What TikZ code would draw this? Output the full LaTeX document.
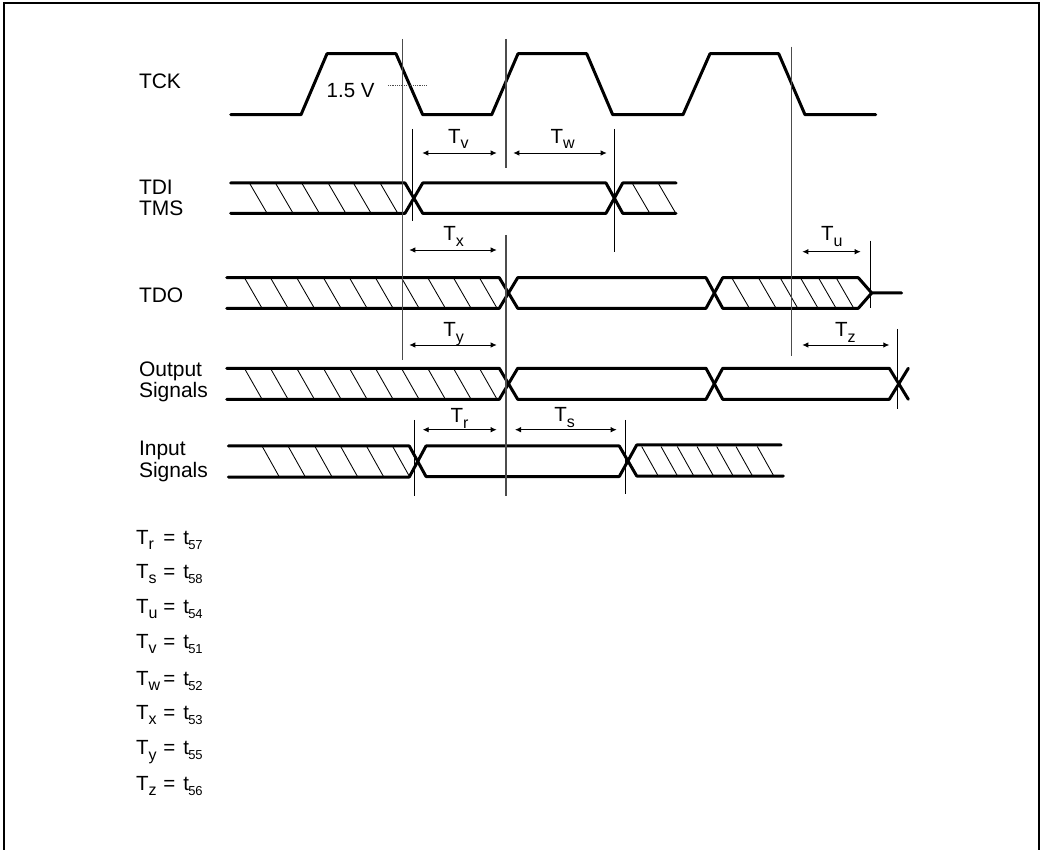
\documentclass[tikz,border=0pt]{standalone}
\usepackage{fontspec}
\setmainfont{Liberation Sans}
\usetikzlibrary{arrows.meta}
\newcommand{\Tsub}[2]{T\kern#2pt\raisebox{-5.5pt}{\fontsize{16}{16}\selectfont #1}}
\newcommand{\tsub}[1]{t\kern-0.5pt\raisebox{-5pt}{\fontsize{13}{13}\selectfont\addfontfeature{LetterSpace=-3} #1}}
\tikzset{
  x=1pt,y=-1pt,
  every node/.style={inner sep=0pt,outer sep=0pt,anchor=base west,font=\fontsize{20.5}{20.5}\selectfont},
  siglabel/.style={font=\fontsize{21}{21}\selectfont},
  wave/.style={line width=3pt,line cap=round,line join=round,black},
  hatchln/.style={line width=0.85pt,black},
  marker/.style={line width=1.4pt,black!70},
  markerthin/.style={line width=1pt,black},
  dim/.style={line width=0.9pt,black,{Latex[length=6pt,width=5.5pt]}-{Latex[length=6pt,width=5.5pt]}},
  dotln/.style={line width=0.9pt,black!70,dash pattern=on 1pt off 0.8pt}
}
\newcommand{\hatchset}[3]{\foreach \q in {#1}{\draw[hatchln] (\q,#2) -- (\q+16.5,#3);}}
\begin{document}
\begin{tikzpicture}
\useasboundingbox (0,0) rectangle (1045,850);
% frame
\draw[line width=2pt,black] (4,851) -- (4,3.3) -- (1039,3.3) -- (1039,851);
% text labels
\node[siglabel] (tck) at (139,88.7) {TCK};
\node (volt) at (326.7,97.3) {1.5 V};
\node[siglabel] (tdi) at (139,195) {TDI};
\node[siglabel] (tms) at (139,215.3) {TMS};
\node[siglabel] (tdo) at (139,303) {TDO};
\node[siglabel] (outa) at (139,376.7) {Output};
\node[siglabel] (outb) at (139,397.7) {Signals};
\node[siglabel] (ina) at (139,456) {Input};
\node[siglabel] (inb) at (139,477.7) {Signals};
% TCK
\draw[wave] (230.7,114.7) -- (301,114.7) -- (327,53.7) -- (396,53.7) -- (422.7,114.7) -- (491.7,114.7) -- (518,53.7) -- (586.7,53.7) -- (612.7,114.7) -- (683,114.7) -- (710,53.7) -- (778.7,53.7) -- (805,114.7) -- (875.7,114.7);
\draw[dotln] (388,85.3) -- (426,85.3);
% TDI/TMS
\hatchset{250,276,302.3,328.7,354,380.7}{184}{212.3}
\hatchset{632.7,658.7}{184}{212.3}
\draw[wave] (230.7,183) -- (405,183) -- (422.7,213.3) -- (606,213.3) -- (622.7,183) -- (676,183);
\draw[wave] (230.7,213.3) -- (405,213.3) -- (422.7,183) -- (606,183) -- (622.7,213.3) -- (676,213.3);
% TDO
\hatchset{245,271,297.3,324,350,376,402,428.3,454,480,732.3,759,780.7,801,819,836.7}{278.7}{307.3}
\draw[wave] (226.7,277.7) -- (499.3,277.7) -- (517.7,308.3) -- (706,308.3) -- (722.7,277.7) -- (858.3,277.7) -- (871.7,293) -- (901.7,293);
\draw[wave] (226.7,308.3) -- (499.3,308.3) -- (517.7,277.7) -- (706,277.7) -- (722.7,308.3) -- (858.3,308.3) -- (871.7,293);
% Output
\hatchset{245,271,297.3,324,350,376,402,428.3,454,480}{369.3}{398.3}
\draw[wave] (226.7,368.3) -- (499.3,368.3) -- (517.7,399.3) -- (706,399.3) -- (722.7,368.3) -- (889.3,368.3) -- (908.3,399.3);
\draw[wave] (226.7,399.3) -- (499.3,399.3) -- (517.7,368.3) -- (706,368.3) -- (722.7,399.3) -- (889.3,399.3) -- (908.3,368.3);
% Input
\hatchset{262.3,288.3,315,340.7,366.7,392.7,641.7,661,677.3,697,716.7,736,757.3}{446.5}{476}
\draw[wave] (228.3,446) -- (409.3,446) -- (426,476.5) -- (619.3,476.5) -- (636.7,445) -- (781,445);
\draw[wave] (228.3,477) -- (409.3,477) -- (426,446) -- (619.3,446) -- (636.7,476) -- (783.3,476);
% vertical markers
\coordinate (vaT) at (402.7,39); \coordinate (vaB) at (402.7,360);
\coordinate (vbT) at (506,39); \coordinate (vbB) at (506,167.7);
\coordinate (vcT) at (506,235); \coordinate (vcB) at (506,496);
\coordinate (vdT) at (412.7,129); \coordinate (vdB) at (412.7,221);
\coordinate (veT) at (614,129); \coordinate (veB) at (614,251.7);
\coordinate (vfT) at (791.7,46.7); \coordinate (vfB) at (791.7,355.7);
\coordinate (vgT) at (870.7,240.7); \coordinate (vgB) at (870.7,308);
\coordinate (vhT) at (897.7,329); \coordinate (vhB) at (897.7,409);
\coordinate (viT) at (414,420); \coordinate (viB) at (414,496);
\coordinate (vjT) at (625.7,420); \coordinate (vjB) at (625.7,494);
\draw[marker] (vaT) -- (vaB);
\draw[marker] (vbT) -- (vbB);
\draw[marker] (vcT) -- (vcB);
\draw[marker] (vfT) -- (vfB);
\draw[markerthin] (vdT) -- (vdB);
\draw[markerthin] (veT) -- (veB);
\draw[markerthin] (vgT) -- (vgB);
\draw[markerthin] (vhT) -- (vhB);
\draw[markerthin] (viT) -- (viB);
\draw[markerthin] (vjT) -- (vjB);
% dimension arrows
\coordinate (dva) at (422.3,153); \coordinate (dvb) at (496.7,153);
\coordinate (dwa) at (513.3,153); \coordinate (dwb) at (606.7,153);
\coordinate (dxa) at (409.3,250); \coordinate (dxb) at (496.7,250);
\coordinate (dua) at (802.3,251.7); \coordinate (dub) at (860.7,251.7);
\coordinate (dya) at (409.3,345); \coordinate (dyb) at (496.7,345);
\coordinate (dza) at (802.3,345); \coordinate (dzb) at (889.3,345);
\coordinate (dra) at (422.7,429.7); \coordinate (drb) at (496.7,429.7);
\coordinate (dsa) at (515,429.7); \coordinate (dsb) at (616.7,429.7);
\draw[dim] (dva) -- (dvb);
\draw[dim] (dwa) -- (dwb);
\draw[dim] (dxa) -- (dxb);
\draw[dim] (dua) -- (dub);
\draw[dim] (dya) -- (dyb);
\draw[dim] (dza) -- (dzb);
\draw[dim] (dra) -- (drb);
\draw[dim] (dsa) -- (dsb);
% timing labels
\node (lv) at (448,143.3) {\Tsub{v}{0}};
\node (lw) at (550.7,143.3) {\Tsub{w}{0}};
\node (lx) at (443.3,240.7) {\Tsub{x}{0}};
\node (lu) at (821,240.7) {\Tsub{u}{0}};
\node (ly) at (443.3,337) {\Tsub{y}{0}};
\node (lz) at (835,337) {\Tsub{z}{0}};
\node (lr) at (450.7,422.7) {\Tsub{r}{0}};
\node (ls) at (554.3,422) {\Tsub{s}{0}};
% legend
\foreach \nm/\s/\yy/\num in {r/r/544/57, s/s/578.3/58, u/u/613.3/54, v/v/648.3/51, w/w/685/52, x/x/719/53, y/y/754.7/55, z/z/790/56}{
  \node (key\nm) at (136,\yy) {\Tsub{\s}{0}};
  \node (eq\nm) at (163.3,\yy) {=};
  \node (val\nm) at (183.3,\yy) {\tsub{\num}};
}
\end{tikzpicture}
\end{document}
